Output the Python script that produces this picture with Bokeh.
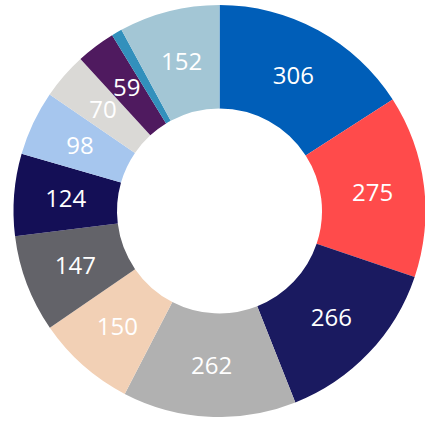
import numpy as np
from bokeh.plotting import figure
from bokeh.models import ColumnDataSource, Range1d
from bokeh.core.properties import value
from bokeh.embed import file_html
from bokeh.resources import INLINE

# Data (clockwise from 12 o'clock)
values = [306, 275, 266, 262, 150, 147, 124, 98, 70, 59, 16, 152]
labels = ["306", "275", "266", "262", "150", "147", "124", "98", "70", "59", "", "152"]
colors = ["#005EB8", "#FF4B4B", "#1A1A60", "#B1B1B1", "#F2D0B5", "#636369",
          "#140F56", "#A6C6EE", "#DAD9D6", "#4F1A5F", "#3290BC", "#A3C6D5"]

W, H = 425, 417
cx, cy = 219.0, -210.5
r_out, r_in = 206.0, 102.5

vals = np.array(values, dtype=float)
total = vals.sum()
cum_after = np.cumsum(vals) / total * 2 * np.pi
cum_before = cum_after - vals / total * 2 * np.pi
start = np.pi / 2 - cum_after
end = np.pi / 2 - cum_before
mid = (start + end) / 2
r_mid = (r_out + r_in) / 2

src = ColumnDataSource(dict(
    start=start, end=end, color=colors,
    lx=cx + r_mid * np.cos(mid), ly=cy + r_mid * np.sin(mid), text=labels,
))

p = figure(width=W, height=H, output_backend="svg", toolbar_location=None,
           x_range=Range1d(0, W), y_range=Range1d(-H, 0),
           min_border=0, outline_line_color=None)
p.axis.visible = False
p.grid.visible = False
p.background_fill_color = "white"
p.border_fill_color = "white"

p.annular_wedge(x=cx, y=cy, inner_radius=r_in, outer_radius=r_out,
                start_angle="start", end_angle="end", fill_color="color",
                line_color=None, source=src)
p.text(x="lx", y="ly", text="text", source=src, text_color="white",
       text_font=value("Open Sans"), text_font_size="24px",
       text_align="center", text_baseline="middle")

open("out.html", "w").write(file_html(p, INLINE))
